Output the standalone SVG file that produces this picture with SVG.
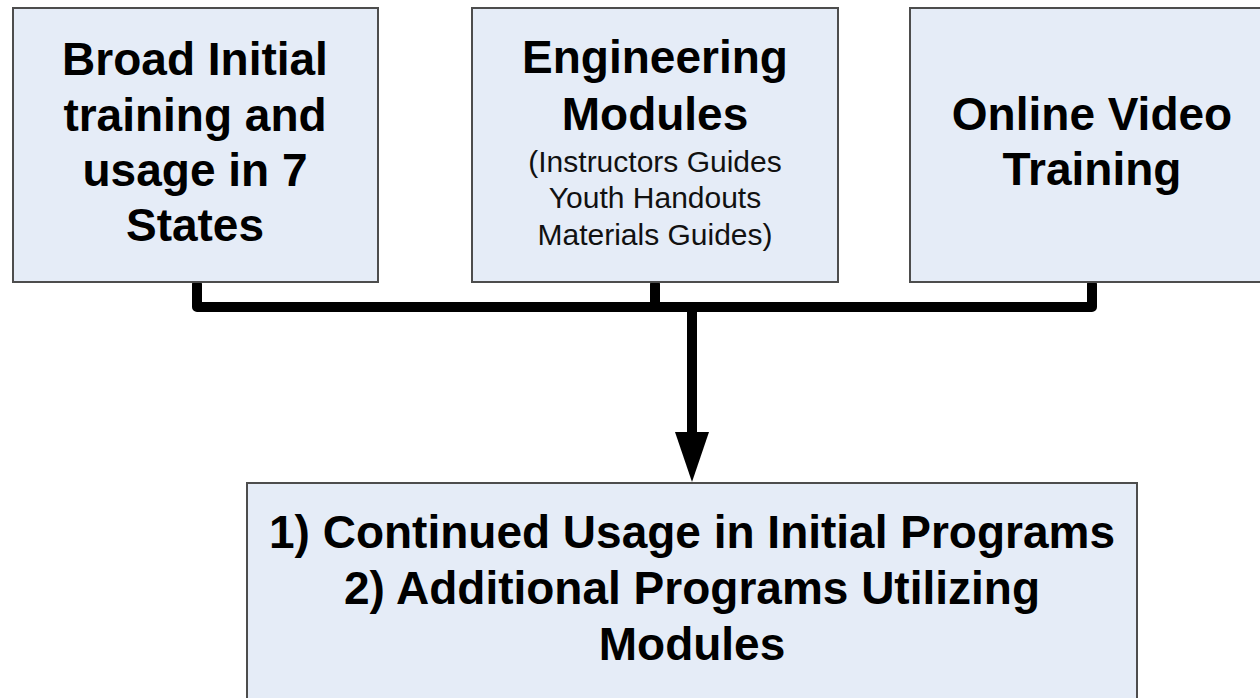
<svg xmlns="http://www.w3.org/2000/svg" width="1260" height="698" viewBox="0 0 1260 698">
<style>
.box{fill:#E5ECF7;stroke:#4d4d4d;stroke-width:2}
.t{font-family:"Liberation Sans",Arial,sans-serif;font-weight:bold;font-size:46px;fill:#000;text-anchor:middle}
.s{font-family:"Liberation Sans",Arial,sans-serif;font-size:30px;fill:#111;text-anchor:middle}
.c{fill:none;stroke:#000;stroke-width:10;stroke-linejoin:round;stroke-linecap:round}
</style>
<rect width="1260" height="698" fill="#fff"/>
<g id="connectors">
<path class="c" d="M197,284 V307 H1092 V284"/>
<path class="c" d="M655,284 V307"/>
<path class="c" d="M692,307 V434" style="stroke-linecap:butt"/>
<polygon points="675,432 709,432 692,482" fill="#000"/>
</g>
<g id="node-broad">
<rect class="box" x="13" y="8" width="365" height="274"/>
<text class="t" x="195" y="75">Broad Initial</text>
<text class="t" x="195" y="131">training and</text>
<text class="t" x="195" y="186">usage in 7</text>
<text class="t" x="195" y="241">States</text>
</g>
<g id="node-engineering">
<rect class="box" x="472" y="8" width="366" height="274"/>
<text class="t" x="655" y="73">Engineering</text>
<text class="t" x="655" y="130">Modules</text>
<text class="s" x="655" y="172">(Instructors Guides</text>
<text class="s" x="655" y="208">Youth Handouts</text>
<text class="s" x="655" y="245">Materials Guides)</text>
</g>
<g id="node-online">
<rect class="box" x="910" y="8" width="365" height="274"/>
<text class="t" x="1092" y="130">Online Video</text>
<text class="t" x="1092" y="185">Training</text>
</g>
<g id="node-result">
<rect class="box" x="247" y="483" width="890" height="230"/>
<text class="t" x="692" y="548">1) Continued Usage in Initial Programs</text>
<text class="t" x="692" y="604">2) Additional Programs Utilizing</text>
<text class="t" x="692" y="660">Modules</text>
</g>
</svg>
